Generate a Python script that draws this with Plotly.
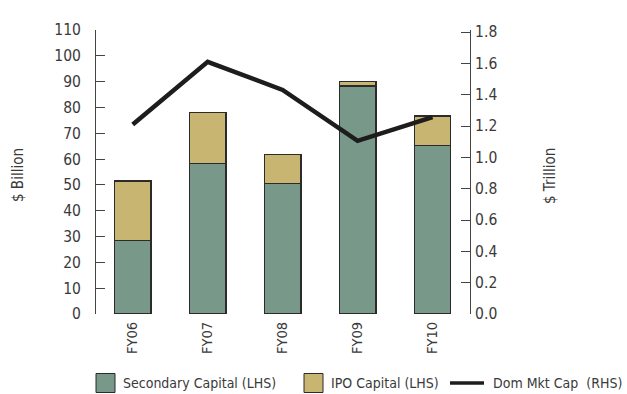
import plotly.graph_objects as go

# Fiscal years on the category axis
years = ["FY06", "FY07", "FY08", "FY09", "FY10"]

# Capital raised, $ billion (left axis)
secondary_capital = [28.4, 58.4, 50.7, 88.3, 65.3]
ipo_capital = [23.1, 19.6, 11.2, 1.9, 11.4]

# Domestic market capitalisation, $ trillion (right axis)
dom_mkt_cap = [1.21, 1.61, 1.43, 1.105, 1.257]

left_ticks = list(range(0, 111, 10))
right_ticks = [round(0.2 * i, 1) for i in range(10)]

GREEN = "#78988A"
TAN = "#C9B572"
EDGE = "#2b2b2b"
TEXT = "#3a3a3a"
FONT = "DejaVu Sans Condensed, sans-serif"

W, H = 627, 394
L, R, T, B = 96, 157, 30, 80
PW, PH = W - L - R, H - T - B


def px(x):
    return (x - L) / PW


def py(y):
    return (T + PH - y) / PH


fig = go.Figure()
fig.add_bar(x=years, y=secondary_capital, name="Secondary Capital (LHS)",
            marker=dict(color=GREEN, line=dict(color=EDGE, width=1.2)),
            width=0.49, showlegend=False)
fig.add_bar(x=years, y=ipo_capital, name="IPO Capital (LHS)",
            marker=dict(color=TAN, line=dict(color=EDGE, width=1.2)),
            width=0.49, showlegend=False)
fig.add_scatter(x=years, y=dom_mkt_cap, name="Dom Mkt Cap  (RHS)", yaxis="y2",
                mode="lines", line=dict(color="#1e1c1c", width=4.5),
                showlegend=False)

axis_common = dict(
    showgrid=False, zeroline=False, showline=True, linecolor="#444",
    linewidth=1, ticks="inside", ticklen=9, tickcolor="#444", tickwidth=1,
    tickfont=dict(family=FONT, size=15.5, color=TEXT),
)

fig.update_layout(
    width=W, height=H,
    margin=dict(l=L, r=R, t=T, b=B),
    paper_bgcolor="white", plot_bgcolor="white",
    barmode="stack",
    font=dict(family=FONT, color=TEXT),
    xaxis=dict(range=[-0.49, 4.5], showgrid=False, showline=False,
               zeroline=False, ticks="", tickangle=-90, ticklabelstandoff=4,
               tickfont=dict(family=FONT, size=14.5, color=TEXT)),
    yaxis=dict(range=[0, 110], tickvals=left_ticks, ticklabelstandoff=11,
               **axis_common),
    yaxis2=dict(range=[0, 1.8 * PH / (PH - 2)], overlaying="y", side="right",
                tickvals=right_ticks, tickformat=".1f", ticklabelstandoff=1,
                **axis_common),
)

# Axis titles
for x0, y0, label in [(18, 175, "$ Billion"), (550, 176, "$ Trillion")]:
    fig.add_annotation(text=label, xref="paper", yref="paper",
                       x=px(x0), y=py(y0), xanchor="center", yanchor="middle",
                       textangle=-90, showarrow=False,
                       font=dict(family=FONT, size=15, color=TEXT))

# Legend row beneath the chart
ly = 383
for x0, color in [(96, GREEN), (304, TAN)]:
    fig.add_shape(type="rect", xref="paper", yref="paper",
                  x0=px(x0), x1=px(x0 + 19), y0=py(ly - 9.5), y1=py(ly + 9.5),
                  fillcolor=color, line=dict(color=EDGE, width=1))
fig.add_shape(type="line", xref="paper", yref="paper",
              x0=px(450), x1=px(484), y0=py(ly), y1=py(ly),
              line=dict(color="#1e1c1c", width=3.5))
for x0, anchor, label in [(121, "left", "Secondary Capital (LHS)"),
                          (329, "left", "IPO Capital (LHS)"),
                          (624, "right", "Dom Mkt Cap\u00a0 (RHS)")]:
    fig.add_annotation(text=label, xref="paper", yref="paper",
                       x=px(x0), y=py(ly), xanchor=anchor, yanchor="middle",
                       showarrow=False,
                       font=dict(family=FONT, size=14, color=TEXT))

fig.write_html("out.html")
